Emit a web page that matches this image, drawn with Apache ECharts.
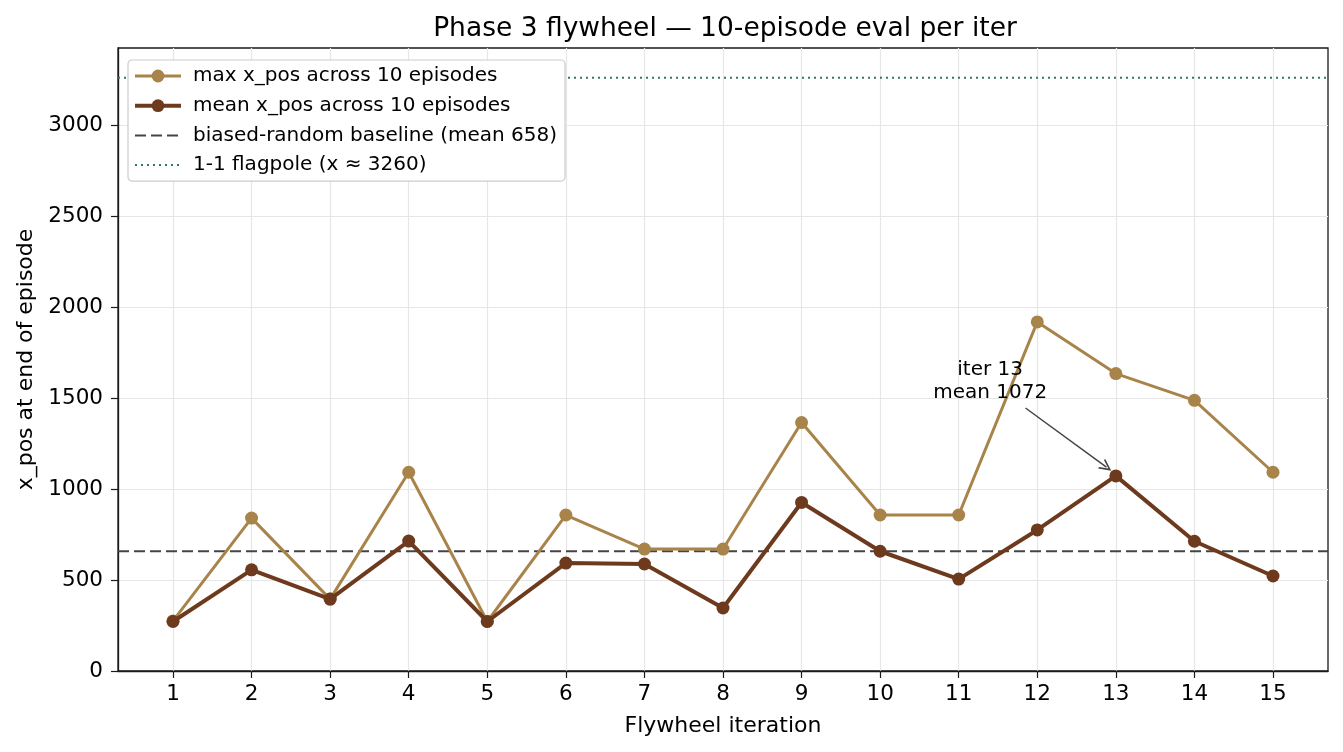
<!DOCTYPE html>
<html>
<head>
<meta charset="utf-8">
<script src="https://cdn.jsdelivr.net/npm/echarts@6/dist/echarts.min.js"></script>
<style>
html,body{margin:0;padding:0;background:#fff;}
#chart{width:1343px;height:752px;}
</style>
</head>
<body>
<div id="chart"></div>
<script>
// ---- data ----
const iterations = [1,2,3,4,5,6,7,8,9,10,11,12,13,14,15];
const maxXpos  = [275, 840, 395, 1092, 272, 857, 670, 670, 1365, 857, 857, 1918, 1634, 1487, 1092];
const meanXpos = [272, 556, 395, 714, 272, 593, 588, 346, 926, 658, 505, 775, 1072, 713, 522];
const baselineValue = 658;
const flagpoleValue = 3260;
const xTicks = [1,2,3,4,5,6,7,8,9,10,11,12,13,14,15];
const yTicks = [0,500,1000,1500,2000,2500,3000];
const xRange = [0.3, 15.7];
const yRange = [0, 3423];
const annotationText = 'iter 13\nmean 1072';
const annotationTextPos = [11.4, 1466];
const annotationArrowFrom = [11.85, 1445];
const annotationArrowTo = [12.88, 1120];

const FONT = 'DejaVu Sans';
const cMax = '#a9844a';
const cMean = '#6e3a1e';

const chart = echarts.init(document.getElementById('chart'), null, {renderer:'canvas'});

const toPts = (vals) => iterations.map((x,i) => [x, vals[i]]);

const option = {
  animation: false,
  backgroundColor: '#ffffff',
  textStyle: {fontFamily: FONT},
  title: {
    text: 'Phase 3 flywheel — 10-episode eval per iter',
    left: 720, top: 11, textAlign: 'center',
    textStyle: {fontFamily: FONT, fontSize: 26.5, fontWeight: 'normal', color: '#000'}
  },
  grid: {left: 118, right: 15, top: 48, bottom: 81, show: true, borderColor: '#1a1a1a', borderWidth: 1.3, backgroundColor: 'transparent'},
  legend: {
    orient: 'vertical', left: 128, top: 60,
    backgroundColor: '#ffffff', borderColor: '#cccccc', borderWidth: 1.2, borderRadius: 4,
    padding: [6, 8, 6, 5],
    itemWidth: 46, itemHeight: 16, itemGap: 9.7,
    textStyle: {fontFamily: FONT, fontSize: 20, color: '#000', padding: [0, 0, 0, 7]},
    data: [
      {name: 'max x_pos across 10 episodes', lineStyle: {width: 3}},
      {name: 'mean x_pos across 10 episodes', lineStyle: {width: 4}},
      {name: 'biased-random baseline (mean 658)', itemStyle: {opacity: 0}, lineStyle: {width: 2}},
      {name: '1-1 flagpole (x ≈ 3260)', itemStyle: {opacity: 0}, lineStyle: {width: 2}}
    ],
    z: 10
  },
  xAxis: {
    type: 'value', min: xRange[0], max: xRange[1],
    name: 'Flywheel iteration', nameLocation: 'middle', nameGap: 44,
    nameTextStyle: {fontFamily: FONT, fontSize: 22, color: '#000'},
    axisLine: {show: true, lineStyle: {color: '#1a1a1a', width: 1.3}},
    axisTick: {show: true, inside: false, length: 7, customValues: xTicks, lineStyle: {color: '#1a1a1a', width: 1.2}},
    axisLabel: {customValues: xTicks, fontFamily: FONT, fontSize: 21.5, color: '#000', margin: 12, formatter: v => String(v)},
    splitLine: {show: true, lineStyle: {color: '#e6e6e6', width: 1.2}}
  },
  yAxis: {
    type: 'value', min: yRange[0], max: yRange[1],
    name: 'x_pos at end of episode', nameLocation: 'middle', nameGap: 80, nameRotate: 90,
    nameTextStyle: {fontFamily: FONT, fontSize: 22, color: '#000'},
    axisLine: {show: true, lineStyle: {color: '#1a1a1a', width: 1.3}},
    axisTick: {show: true, inside: false, length: 7, customValues: yTicks, lineStyle: {color: '#1a1a1a', width: 1.2}},
    axisLabel: {customValues: yTicks, fontFamily: FONT, fontSize: 21.5, color: '#000', margin: 15, formatter: v => String(v)},
    splitLine: {show: true, lineStyle: {color: '#e6e6e6', width: 1.2}}
  },
  series: [
    {
      name: '1-1 flagpole (x ≈ 3260)', type: 'line',
      data: [[xRange[0], flagpoleValue], [xRange[1], flagpoleValue]],
      symbol: 'none', silent: true, z: 1,
      lineStyle: {color: '#2f7a5a', width: 2, type: [2, 4]},
      itemStyle: {color: '#2f7a5a'}
    },
    {
      name: 'biased-random baseline (mean 658)', type: 'line',
      data: [[xRange[0], baselineValue], [xRange[1], baselineValue]],
      symbol: 'none', silent: true, z: 1,
      lineStyle: {color: '#444444', width: 2, type: [11, 5]},
      itemStyle: {color: '#444444'}
    },
    {
      name: 'max x_pos across 10 episodes', type: 'line',
      data: toPts(maxXpos),
      symbol: 'circle', symbolSize: 13, z: 3,
      lineStyle: {color: cMax, width: 3},
      itemStyle: {color: cMax}
    },
    {
      name: 'mean x_pos across 10 episodes', type: 'line',
      data: toPts(meanXpos),
      symbol: 'circle', symbolSize: 13, z: 4,
      lineStyle: {color: cMean, width: 4},
      itemStyle: {color: cMean},
      markLine: {
        silent: true,
        symbol: ['none', 'path://M5,0 L10,10 L8.5,10 L5,3 L1.5,10 L0,10 Z'],
        symbolSize: 12,
        lineStyle: {color: '#444444', width: 1.5, type: 'solid'},
        label: {show: false},
        data: [[{coord: annotationArrowFrom}, {coord: annotationArrowTo}]]
      },
      markPoint: {
        silent: true, symbol: 'circle', symbolSize: 0,
        label: {show: true, position: 'top', distance: 0, formatter: annotationText,
          fontFamily: FONT, fontSize: 20, color: '#000', lineHeight: 23, align: 'center'},
        data: [{coord: annotationTextPos}]
      }
    }
  ]
};
chart.setOption(option);
</script>
</body>
</html>
